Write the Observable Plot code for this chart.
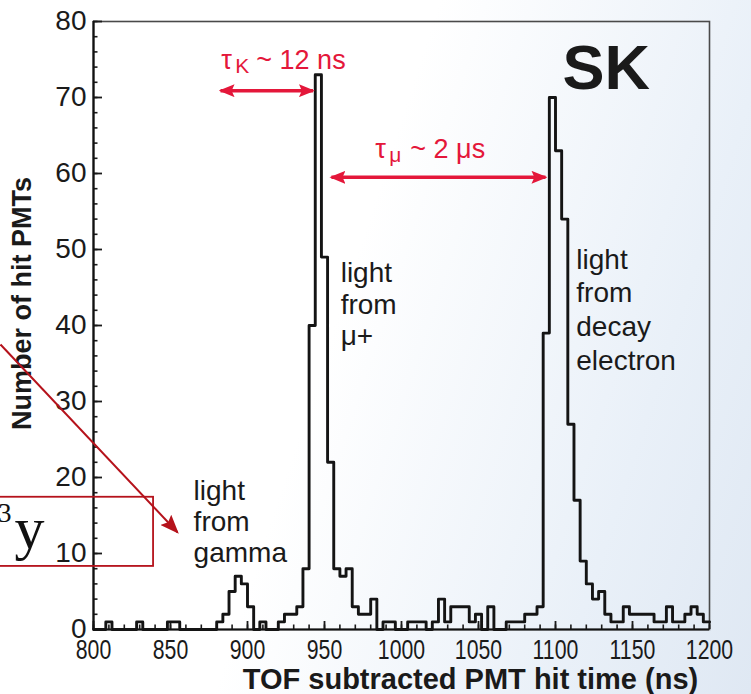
<!DOCTYPE html>
<html>
<head>
<meta charset="utf-8">
<script src="https://cdn.jsdelivr.net/npm/d3@7"></script>
<script src="https://cdn.jsdelivr.net/npm/@observablehq/plot@0.6"></script>
<style>
  html, body { margin: 0; padding: 0; }
  body {
    width: 751px; height: 694px; overflow: hidden;
    background: linear-gradient(108deg, #ffffff 0%, #ffffff 45%, #e9f0f8 80%, #dfe8f3 100%);
  }
</style>
</head>
<body>
<div id="chart"></div>
<script>
// Hit-time histogram of one K+ -> mu+ nu event: 4 ns bins from 800 to 1200 ns
const binWidth = 4;
const binStarts = d3.range(800, 1200, binWidth);
const hitCounts = [
  0, 0, 1, 0, 0, 0, 0, 1, 0, 0,      // 800-836
  0, 0, 1, 1, 0, 0, 0, 0, 0, 0,      // 840-876
  1, 2, 5, 7, 6, 3, 0, 1, 0, 0,      // 880-916  gamma
  1, 2, 2, 3, 8, 40, 73, 49, 22, 8,  // 920-956  muon
  7, 8, 3, 2, 2, 4, 0, 1, 1, 0,      // 960-996
  0, 1, 1, 1, 0, 1, 4, 1, 3, 3,      // 1000-1036
  3, 1, 2, 0, 3, 0, 0, 1, 1, 1,      // 1040-1076
  2, 2, 3, 39, 70, 63, 54, 27, 17, 9, // 1080-1116 decay electron
  6, 4, 5, 2, 1, 1, 3, 2, 2, 2,      // 1120-1156
  2, 1, 1, 3, 1, 1, 2, 3, 2, 1       // 1160-1196
];

const xMajorTicks = [800, 850, 900, 950, 1000, 1050, 1100, 1150, 1200];
const xMinorTicks = d3.range(800, 1201, 10);
const yMajorTicks = [0, 10, 20, 30, 40, 50, 60, 70, 80];
const yMinorTicks = d3.range(0, 81, 2);

const xTitle = "TOF subtracted PMT hit time (ns)";
const yTitle = "Number of hit PMTs";

// peak labels (left edge and top of the first line)
const peakNotes = [
  {text: "light\nfrom\ngamma", t: 865, n: 19.9, lh: 1.1},
  {text: "light\nfrom\nμ+", t: 960.5, n: 48.6, lh: 1.12},
  {text: "light\nfrom\ndecay\nelectron", t: 1113.5, n: 50.6, lh: 1.2}
];

// lifetime annotations
const tauLabels = [
  {sym: "τ", sub: "K", rest: "~ 12 ns", t: 883, n: 73.7},
  {sym: "τ", sub: "μ", rest: "~ 2 μs", t: 983, n: 62.1}
];
const tauArrows = [
  {t1: 882.5, t2: 942.5, n: 70.9},
  {t1: 954.5, t2: 1093.5, n: 59.5}
];

// overlay pointer and boxed label at the left edge
const pointer = [{t1: 739.6, n1: 37.5, t2: 854.5, n2: 12.8}];
const box = [{t1: 733, t2: 839, n1: 8.3, n2: 17.4}];

const histogram = binStarts.map((t, i) => ({t, n: hitCounts[i]}));
histogram.push({t: 1200, n: hitCounts[hitCounts.length - 1]});

const red = "#e4173a";
const darkRed = "#b5121b";
const ink = "#1a1a1a";
const font = "'Liberation Sans', Arial, Helvetica, sans-serif";
const serif = "'Liberation Serif', 'Times New Roman', serif";

const chart = Plot.plot({
  width: 751,
  height: 694,
  marginLeft: 93,
  marginRight: 42,
  marginTop: 21,
  marginBottom: 65,
  style: {background: "transparent", fontFamily: font, color: ink},
  x: {domain: [800, 1200]},
  y: {domain: [0, 80]},
  marks: [
    Plot.frame({stroke: "#4a4a4a", strokeWidth: 1.6}),
    Plot.axisX(xMinorTicks, {tickSize: -4.5, tickFormat: () => "", label: null, strokeWidth: 1.6}),
    Plot.axisX(xMajorTicks, {tickSize: -8, tickPadding: 18, fontSize: 28, label: null, strokeWidth: 1.8,
      tickFormat: d => String(d)}),
    Plot.axisY(yMinorTicks, {tickSize: -4.5, tickFormat: () => "", label: null, strokeWidth: 1.6}),
    Plot.axisY(yMajorTicks, {tickSize: -9, tickPadding: 16, fontSize: 28, label: null, strokeWidth: 1.8,
      tickFormat: d => String(d)}),
    Plot.ruleX([800], {stroke: "#111", strokeWidth: 2.2}),
    Plot.ruleY([0], {stroke: "#111", strokeWidth: 2.2}),
    Plot.line(histogram, {x: "t", y: "n", curve: "step-after", stroke: "#141414", strokeWidth: 2.9}),
    ...peakNotes.map(d => Plot.text([d], {x: "t", y: "n", text: "text", textAnchor: "start",
      lineAnchor: "top", lineHeight: d.lh, fontSize: 28, fill: ink})),
    Plot.text(tauLabels, {x: "t", y: "n", text: "sym", textAnchor: "start", lineAnchor: "bottom",
      fontSize: 27, fill: red}),
    Plot.text(tauLabels, {x: "t", y: "n", text: "sub", textAnchor: "start", lineAnchor: "bottom",
      dx: 14, dy: 4, fontSize: 21, fill: red}),
    Plot.text(tauLabels, {x: "t", y: "n", text: "rest", textAnchor: "start", lineAnchor: "bottom",
      dx: 35, fontSize: 27, fill: red}),
    Plot.link(tauArrows, {x1: "t1", x2: "t2", y1: "n", y2: "n", stroke: red, strokeWidth: 3.5,
      markerStart: "arrow", markerEnd: "arrow"}),
    Plot.text(["SK"], {x: 1133, y: 73.8, fontSize: 63, fontWeight: "bold", fill: ink}),
    Plot.text([xTitle], {x: 1044.8, frameAnchor: "bottom", dy: 59, textAnchor: "middle", lineAnchor: "bottom",
      fontSize: 29, fontWeight: "bold", fill: ink}),
    Plot.text([yTitle], {y: 42.9, frameAnchor: "left", dx: -71, rotate: -90, textAnchor: "middle",
      fontSize: 27, fontWeight: "bold", fill: ink}),
    Plot.link(pointer, {x1: "t1", y1: "n1", x2: "t2", y2: "n2", stroke: darkRed, strokeWidth: 2,
      markerEnd: "arrow"}),
    Plot.rect(box, {x1: "t1", x2: "t2", y1: "n1", y2: "n2", fill: "none", stroke: darkRed, strokeWidth: 1.8}),
    Plot.text(["3"], {x: 746.8, y: 14.1, textAnchor: "end", lineAnchor: "bottom", fontSize: 27,
      fontFamily: serif, fill: "#111"}),
    Plot.text(["y"], {x: 758.4, y: 10.7, lineAnchor: "bottom", fontSize: 60,
      fontFamily: serif, fill: "#111"})
  ]
});

document.getElementById("chart").append(chart);

// replace the open arrow markers with filled heads
const svg = d3.select(chart);
const defs = svg.insert("defs", ":first-child");
function arrowHead(id, color, len, wid) {
  defs.append("marker")
    .attr("id", id)
    .attr("viewBox", `0 ${-wid / 2} ${len} ${wid}`)
    .attr("refX", len - 2)
    .attr("refY", 0)
    .attr("markerWidth", len)
    .attr("markerHeight", wid)
    .attr("markerUnits", "userSpaceOnUse")
    .attr("orient", "auto-start-reverse")
    .append("path")
    .attr("d", `M0,${-wid / 2}L${len},0L0,${wid / 2}L${len * 0.18},0Z`)
    .attr("fill", color);
}
arrowHead("tau-head", red, 16, 13);
arrowHead("pointer-head", darkRed, 19, 15);
svg.selectAll("[marker-end]").each(function () {
  const el = d3.select(this);
  if (el.attr("marker-start")) {
    el.attr("marker-start", "url(#tau-head)").attr("marker-end", "url(#tau-head)");
  } else {
    el.attr("marker-end", "url(#pointer-head)");
  }
});

// the time-axis numbers are set in a narrower width
svg.selectAll('g[aria-label="x-axis tick label"] text').each(function () {
  const w = this.getComputedTextLength();
  if (w > 0) {
    this.setAttribute("textLength", (w * 0.76).toFixed(1));
    this.setAttribute("lengthAdjust", "spacingAndGlyphs");
  }
});
</script>
</body>
</html>
